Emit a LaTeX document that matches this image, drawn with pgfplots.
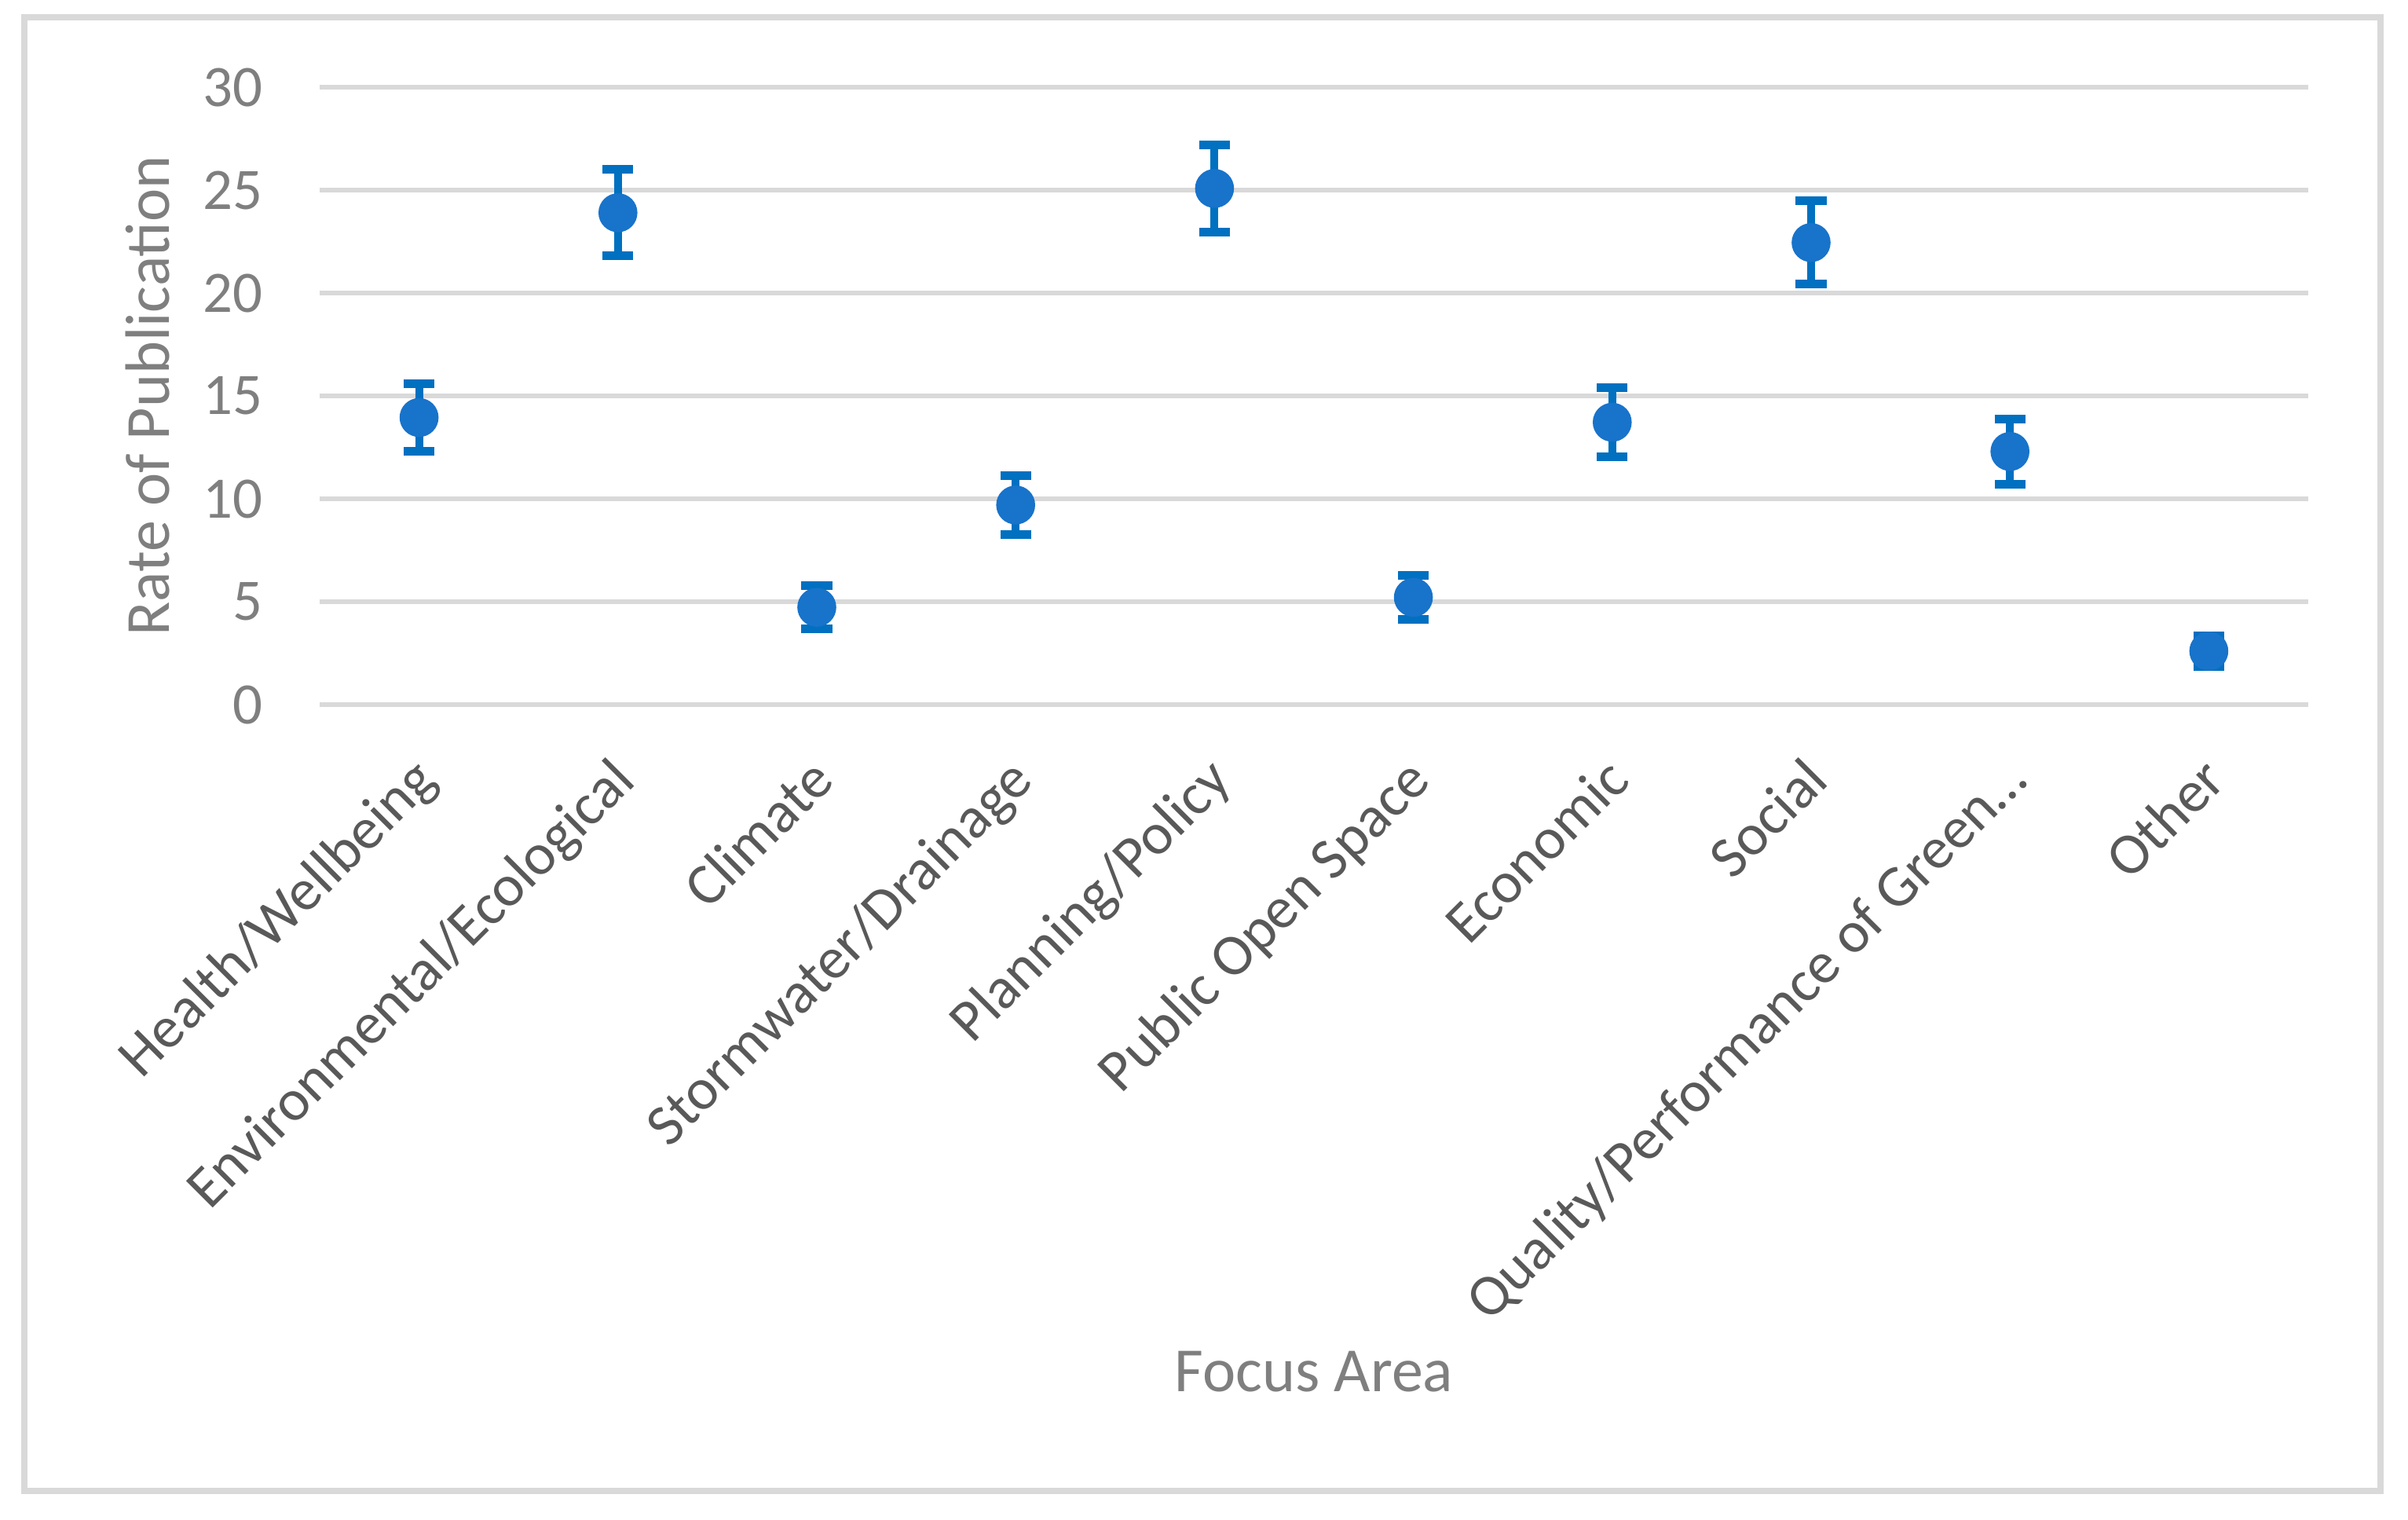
\documentclass[border=0pt]{standalone}
\usepackage{fontspec}
\setmainfont{Carlito}
\usepackage{pgfplots}
\pgfplotsset{compat=1.18}
\definecolor{gridc}{HTML}{D9D9D9}
\definecolor{ticktext}{HTML}{7F7F7F}
\definecolor{cattext}{HTML}{595959}
\definecolor{markblue}{HTML}{1873CA}
\definecolor{errblue}{HTML}{0070C0}
\begin{document}
\begin{tikzpicture}
\path[use as bounding box] (0,0) rectangle (766.5pt,-483.75pt);
\draw[gridc, line width=2pt] (7.75pt,-5.5pt) rectangle (757.75pt,-474.5pt);
\begin{axis}[
  at={(101.75pt,-224.25pt)}, anchor=south west,
  width=633pt, height=196.5pt, scale only axis,
  xmin=-0.5, xmax=9.5, ymin=0, ymax=30,
  ytick={0,5,...,30},
  xtick={0,...,9},
  xticklabels={Health/Wellbeing,Environmental/Ecological,Climate,Stormwater/Drainage,Planning/Policy,Public Open Space,Economic,Social,Quality/Performance of Green…,Other},
  axis line style={draw=none},
  major tick length=0pt,
  ymajorgrids, major grid style={gridc, line width=1.6pt},
  /pgf/number format/assume math mode=true,
  yticklabel style={font=\fontsize{18.7}{22}\selectfont, color=ticktext, inner xsep=0pt, xshift=-18pt},
  xticklabel style={rotate=45, anchor=base east, font=\fontsize{18.7}{22}\selectfont, color=cattext, inner sep=0pt, xshift=-13.1pt, yshift=-22pt},
  ylabel={Rate of Publication},
  xlabel={Focus Area},
  every axis y label/.style={at={(axis description cs:-0.0758,0.5)}, rotate=90, anchor=base, font=\fontsize{20}{24}\selectfont, color=ticktext},
  every axis x label/.style={at={(axis description cs:0.5,0)}, anchor=base, yshift=-218.5pt, font=\fontsize{20}{24}\selectfont, color=ticktext},
  clip=false,
]
\addplot[only marks, mark=*, mark size=6pt, mark options={fill=markblue, draw=markblue},
  error bars/.cd, y dir=both, y explicit,
  error bar style={line width=2.5pt, color=errblue},
  error mark options={line width=2.75pt, mark size=4.9pt, color=errblue, rotate=90}]
  table[x=x, y=y, y error=e] {
x y e
0 13.95 1.65
1 23.9 2.1
2 4.73 1.04
3 9.7 1.43
4 25.08 2.12
5 5.21 1.06
6 13.72 1.67
7 22.45 2.03
8 12.3 1.58
9 2.6 0.75
};
\end{axis}
\end{tikzpicture}
\end{document}
